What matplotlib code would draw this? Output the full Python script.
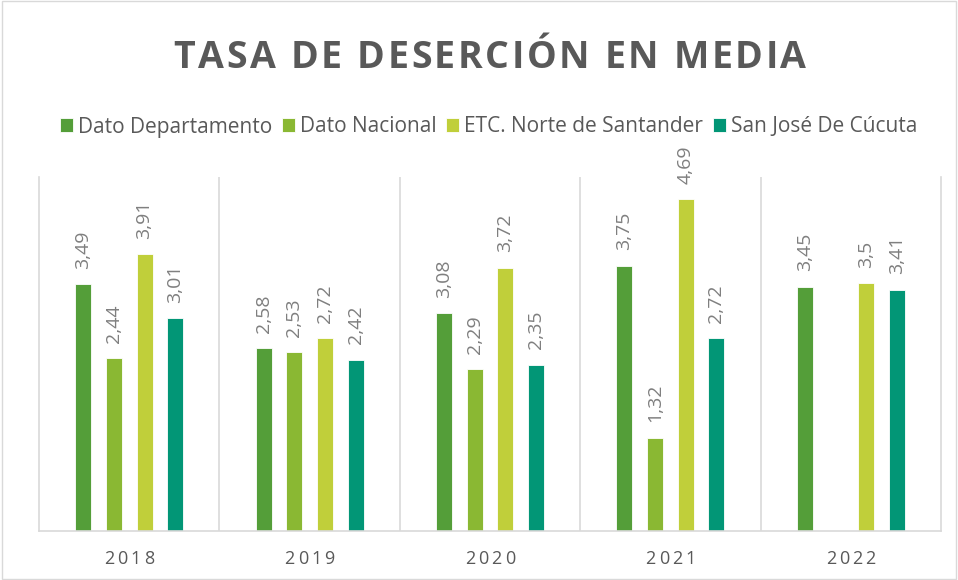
import numpy as np
import matplotlib.pyplot as plt

years = ['2018', '2019', '2020', '2021', '2022']
series_names = ['Dato Departamento', 'Dato Nacional', 'ETC. Norte de Santander', 'San José De Cúcuta']
dato_departamento = [3.49, 2.58, 3.08, 3.75, 3.45]
dato_nacional = [2.44, 2.53, 2.29, 1.32, np.nan]
etc_norte = [3.91, 2.72, 3.72, 4.69, 3.50]
cucuta = [3.01, 2.42, 2.35, 2.72, 3.41]
colors = ['#549E39', '#8AB833', '#C0CF3A', '#029676']

plt.rcParams['font.family'] = ['Open Sans', 'DejaVu Sans']

W, H = 958, 580
fig = plt.figure(figsize=(W / 100, H / 100), dpi=100)
renderer = fig.canvas.get_renderer()


def spaced_text(xc, yc, s, spacing, **kw):
    # draw text char by char (pixel coords from top-left) with extra letter spacing
    widths = []
    for ch in s:
        t = fig.text(0, 0, ch, **kw)
        widths.append(t.get_window_extent(renderer).width if ch != ' ' else None)
        t.remove()
    sp = fig.text(0, 0, 'a a', **kw)
    aa = fig.text(0, 0, 'aa', **kw)
    space_w = sp.get_window_extent(renderer).width - aa.get_window_extent(renderer).width
    sp.remove()
    aa.remove()
    widths = [space_w if w is None else w for w in widths]
    total = sum(widths) + spacing * (len(s) - 1)
    x = xc - total / 2
    for ch, w in zip(s, widths):
        if ch != ' ':
            fig.text(x / W, 1 - yc / H, ch, ha='left', va='center', **kw)
        x += w + spacing


ax = fig.add_axes([39 / W, 1 - 531 / H, (941 - 39) / W, (531 - 177) / H])

x = np.arange(len(years))
width = 0.089
offsets = [-0.255, -0.085, 0.085, 0.255]
all_series = [dato_departamento, dato_nacional, etc_norte, cucuta]

for vals, off, col, name in zip(all_series, offsets, colors, series_names):
    ax.bar(x + off, vals, width, color=col, edgecolor='white', linewidth=0.6, label=name)
    for xi, v in zip(x + off, vals):
        if np.isnan(v):
            continue
        label = f'{v:g}'.replace('.', ',')
        ax.annotate(label, (xi, v), xytext=(0, 11), textcoords='offset points',
                    rotation=90, ha='center', va='bottom', fontsize=14, color='#7F7F7F')

ax.set_xlim(-0.5, len(years) - 0.5)
ax.set_ylim(0, 5)
ax.set_yticks([])
ax.set_xticks([])
for b in np.arange(0.5, len(years) - 0.5, 1):
    ax.axvline(b, color='#D9D9D9', linewidth=1.2, zorder=0)
ax.spines['top'].set_visible(False)
for s in ['left', 'right', 'bottom']:
    ax.spines[s].set_color('#D9D9D9')
    ax.spines[s].set_linewidth(1.2)

# year labels with letter spacing
for i, yr in enumerate(years):
    xc = 39 + (i + 0.5) * (941 - 39) / len(years)
    spaced_text(xc, 559, yr, 3, fontsize=13, color='#595959')

spaced_text(490, 58, 'TASA DE DESERCIÓN EN MEDIA', 2.6,
            fontsize=27, fontweight='bold', color='#595959')

fig.legend(loc='center', bbox_to_anchor=(0.51, 1 - 127 / H), ncol=4, frameon=False,
           fontsize=15, handlelength=0.63, handleheight=0.63, handletextpad=0.25,
           columnspacing=0.45, labelcolor='#595959')

fig.patches.append(plt.Rectangle((0.002, 0.002), 0.996, 0.996, transform=fig.transFigure,
                                 fill=False, edgecolor='#D9D9D9', linewidth=1))

fig.savefig('out.png', dpi=100)
